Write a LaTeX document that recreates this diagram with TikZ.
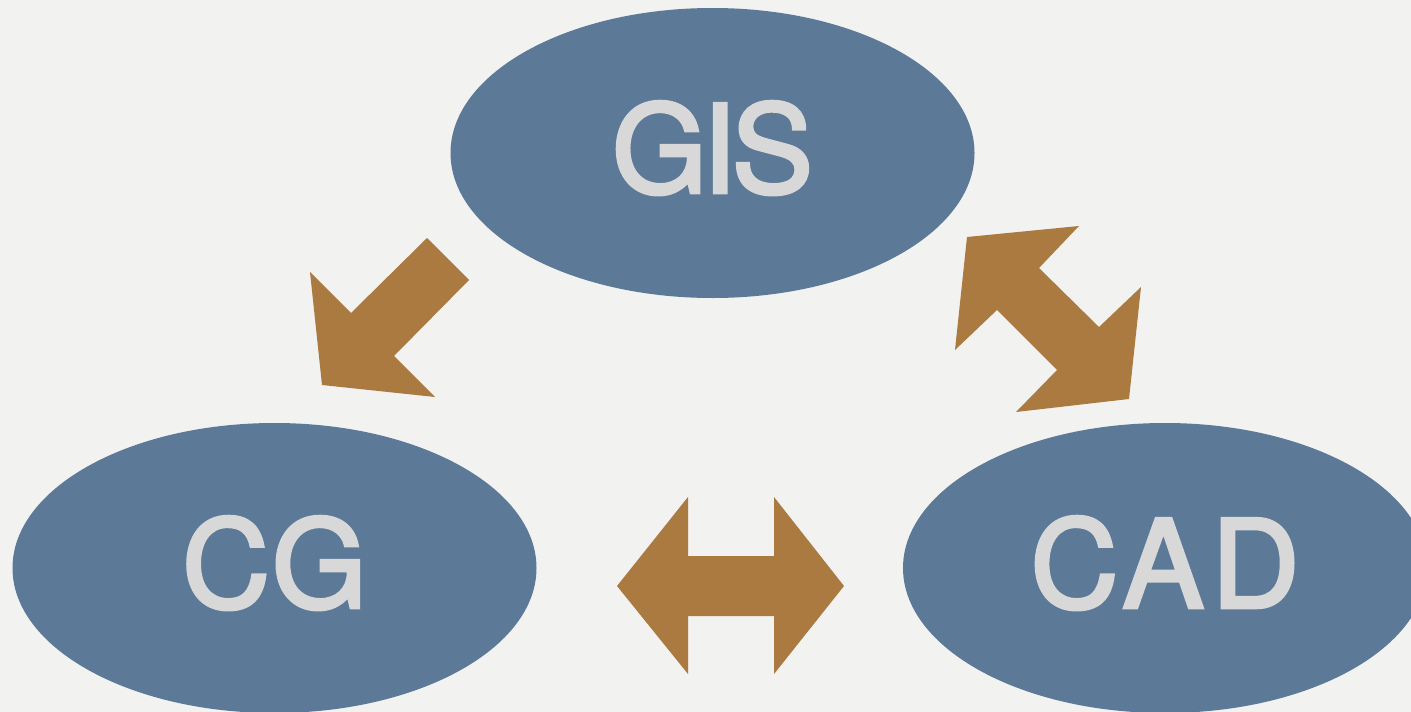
\documentclass[tikz,border=0pt]{standalone}
\usepackage{fontspec}
\setmainfont{TeX Gyre Heros}
\newfontfamily\lblfont[FakeBold=2.8]{TeX Gyre Heros}
\usetikzlibrary{shapes.geometric}
\definecolor{bgcol}{HTML}{F2F2F1}
\definecolor{ellcol}{HTML}{5C7998}
\definecolor{arrcol}{HTML}{AA7A41}
\definecolor{txtcol}{HTML}{D8D8D8}
\tikzset{
  blob/.style={ellipse, fill=ellcol, draw=none, inner sep=0pt,
    minimum width=524pt, minimum height=290pt, text=txtcol,
    font=\lblfont\fontsize{122}{122}\selectfont, text depth=12pt},
  blockarrow/.style={fill=arrcol, draw=none}
}
\begin{document}
\begin{tikzpicture}[x=1pt,y=-1pt]
\useasboundingbox (0,0) rectangle (1411,712);
\clip (0,0) rectangle (1411,712);
\fill[bgcol] (0,0) rectangle (1411,712);
\node[blob] (gis) at (712.5,153) {\addfontfeature{LetterSpace=-3.8}GIS};
\node[blob] (cg) at (274.5,568) {\addfontfeature{LetterSpace=1.5}CG};
\node[blob] (cad) at (1165,568) {\addfontfeature{LetterSpace=6.2}CAD};
% GIS -> CG
\fill[blockarrow] (427,238) -- (469,280) -- (394,356) -- (435,397) -- (322,385) -- (310,272) -- (351,313) -- cycle;
% GIS <-> CAD
\fill[blockarrow] (967,237) -- (1079,226) -- (1039,268) -- (1099,327) -- (1141,287) -- (1129,399) -- (1016,412) -- (1057,370) -- (997,310) -- (955,350) -- cycle;
% CG <-> CAD
\fill[blockarrow] (617,586) -- (688,497) -- (688,556) -- (774,556) -- (774,497) -- (844,586) -- (774,674) -- (774,616) -- (688,616) -- (688,674) -- cycle;
\end{tikzpicture}
\end{document}
